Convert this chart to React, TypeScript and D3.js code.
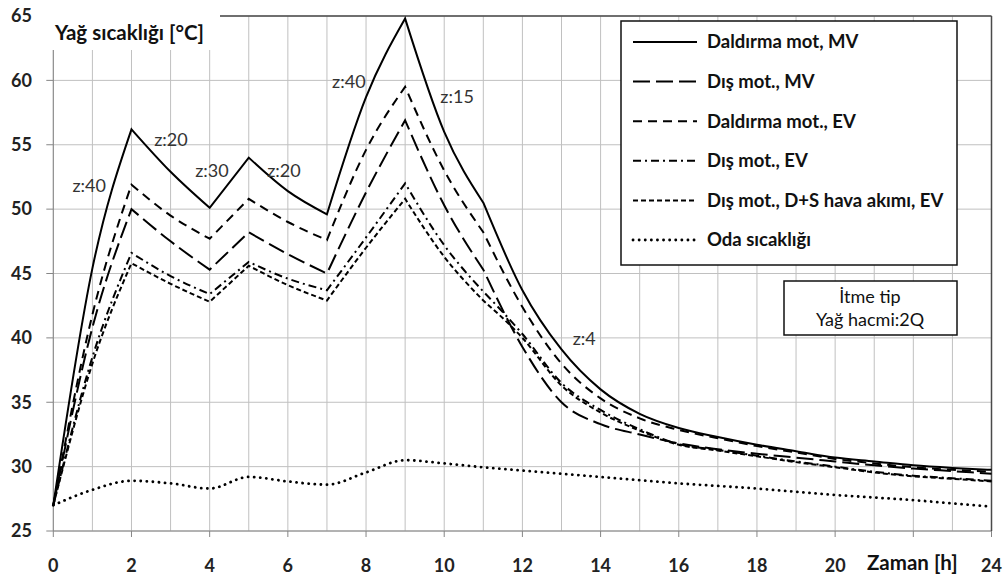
import React from 'react';
import * as d3 from 'd3';

// saat (x ekseni)
const HOURS = [0, 1, 2, 3, 4, 5, 6, 7, 8, 9, 10, 11, 12, 13, 14, 15, 16, 17, 18, 19, 20, 21, 22, 23, 24];

// yağ sıcaklığı serileri [°C]
const DALDIRMA_MV = [27.0, 45.4, 56.2, 52.9, 50.1, 54.0, 51.4, 49.6, 58.7, 64.8, 56.0, 50.5, 43.7, 39.1, 36.0, 34.1, 33.0, 32.3, 31.7, 31.2, 30.7, 30.4, 30.1, 29.9, 29.75];
const DIS_MV = [27.0, 40.8, 50.0, 47.5, 45.3, 48.2, 46.5, 45.0, 51.3, 56.9, 50.3, 45.3, 39.3, 35.0, 33.3, 32.5, 31.8, 31.35, 31.0, 30.7, 30.4, 30.1, 29.85, 29.65, 29.45];
const DALDIRMA_EV = [27.0, 41.8, 51.9, 49.5, 47.7, 50.8, 49.0, 47.6, 54.6, 59.5, 53.0, 48.2, 42.4, 38.0, 35.3, 33.75, 32.85, 32.2, 31.6, 31.1, 30.6, 30.25, 29.95, 29.75, 29.6];
const DIS_EV = [27.0, 38.5, 46.6, 44.8, 43.4, 45.9, 44.6, 43.7, 47.8, 52.0, 47.2, 43.6, 40.3, 36.5, 34.4, 32.9, 31.75, 31.3, 30.85, 30.4, 30.0, 29.6, 29.3, 29.1, 28.9];
const DIS_DS_EV = [27.0, 38.0, 45.8, 44.2, 42.8, 45.6, 44.1, 42.9, 47.0, 50.8, 46.3, 42.9, 40.0, 36.3, 34.2, 32.8, 31.7, 31.25, 30.8, 30.35, 29.95, 29.55, 29.25, 29.05, 28.85];
const ODA = [27.0, 28.2, 28.9, 28.7, 28.3, 29.2, 28.85, 28.6, 29.55, 30.5, 30.25, 29.95, 29.7, 29.45, 29.2, 28.95, 28.7, 28.5, 28.3, 28.05, 27.8, 27.6, 27.4, 27.15, 26.9];

// motor açma/kapama noktaları (saat) – eğriler bu noktalarda kırılır
const BREAKS = [0, 2, 4, 5, 7, 9, 11, 24];

const X_TICKS = [0, 2, 4, 6, 8, 10, 12, 14, 16, 18, 20, 22, 24];
// 22 etiketi eksen başlığının altında kalıyor
const X_LABELS = [0, 2, 4, 6, 8, 10, 12, 14, 16, 18, 20, 24];
const Y_TICKS = [25, 30, 35, 40, 45, 50, 55, 60, 65];

const LEGEND = ['Daldırma mot, MV', 'Dış mot., MV', 'Daldırma mot., EV', 'Dış mot., EV', 'Dış mot., D+S hava akımı, EV', 'Oda sıcaklığı'];

// z: saatlik çalışma sayısı notları (saat, °C)
const NOTE_TEXT = ['z:40', 'z:20', 'z:30', 'z:20', 'z:40', 'z:15', 'z:4'];
const NOTE_H = [0.92, 3.01, 4.06, 5.9, 7.56, 10.33, 13.58];
const NOTE_T = [51.8, 55.4, 53.0, 53.0, 59.9, 58.7, 39.9];

const W = 1005;
const H = 578;
const FONT = 'Lato, "Open Sans", "DejaVu Sans", sans-serif';

const x = d3.scaleLinear().domain([0, 24]).range([53.3, 991.5]);
const y = d3.scaleLinear().domain([25, 65]).range([531, 16]);

const series = [
  { name: LEGEND[0], values: DALDIRMA_MV, dash: null, width: 2 },
  { name: LEGEND[1], values: DIS_MV, dash: '17,6', width: 2 },
  { name: LEGEND[2], values: DALDIRMA_EV, dash: '9,6', width: 2 },
  { name: LEGEND[3], values: DIS_EV, dash: '8,4,2,4', width: 2 },
  { name: LEGEND[4], values: DIS_DS_EV, dash: '5,3', width: 2 },
  { name: LEGEND[5], values: ODA, dash: '0.1,6', width: 2.8 },
];

const segLine = d3.line<[number, number]>()
  .x(d => x(d[0]))
  .y(d => y(d[1]))
  .curve(d3.curveMonotoneX);

// her açma/kapama aralığı ayrı yumuşatılır, köşeler sivri kalsın
function brokenPath(values: number[]) {
  const pts: [number, number][] = HOURS.map((h, i) => [h, values[i]]);
  const parts: string[] = [];
  for (let i = 0; i < BREAKS.length - 1; i++) {
    const seg = pts.filter(p => p[0] >= BREAKS[i] && p[0] <= BREAKS[i + 1]);
    const d = segLine(seg) || '';
    parts.push(i === 0 ? d : d.replace(/^M/, 'L'));
  }
  return parts.join('');
}

function smoothPath(values: number[]) {
  return segLine(HOURS.map((h, i) => [h, values[i]] as [number, number])) || '';
}

const gridH = d3.range(0, 25);

const App: React.FC = () => {
  const x0 = x.range()[0];
  const x1 = x.range()[1];
  const yTop = y.range()[1];
  const yBot = y.range()[0];

  const legX = 621;
  const legY = 21;
  const legW = 336;
  const legH = 244;

  return (
    <svg width={W} height={H} viewBox={`0 0 ${W} ${H}`}
      style={{ position: 'absolute', left: 0, top: 0, background: '#fff' }}
      fontFamily={FONT}>
      <rect x={0} y={0} width={W} height={H} fill="#fff" />

      {/* ızgara */}
      <g stroke="#c0c0c0" strokeWidth={1}>
        {gridH.map(h => (
          <line key={'v' + h} x1={x(h)} x2={x(h)} y1={yTop} y2={yBot} />
        ))}
        {Y_TICKS.map(t => (
          <line key={'h' + t} x1={x0} x2={x1} y1={y(t)} y2={y(t)} />
        ))}
      </g>

      {/* eksenler */}
      <line x1={x0} x2={x0} y1={yTop} y2={yBot} stroke="#868686" strokeWidth={1} />
      <line x1={x0} x2={x1} y1={yBot} y2={yBot} stroke="#868686" strokeWidth={1} />
      <line x1={x0} x2={x1} y1={yTop} y2={yTop} stroke="#4a4a4a" strokeWidth={1.5} />
      <line x1={x1} x2={x1} y1={yTop} y2={yBot} stroke="#4a4a4a" strokeWidth={1.5} />
      {Y_TICKS.map(t => (
        <line key={'yt' + t} x1={x0 - 7} x2={x0} y1={y(t)} y2={y(t)} stroke="#868686" />
      ))}
      {X_TICKS.map(t => (
        <line key={'xt' + t} x1={x(t)} x2={x(t)} y1={yBot} y2={yBot + 6} stroke="#868686" />
      ))}

      {/* seriler */}
      {series.map((s, i) => (
        <path key={s.name}
          d={i === 5 ? smoothPath(s.values) : brokenPath(s.values)}
          fill="none" stroke="#000" strokeWidth={s.width}
          strokeDasharray={s.dash || undefined}
          strokeLinecap={i === 5 ? 'round' : 'butt'}
          strokeLinejoin="miter" />
      ))}

      {/* tick etiketleri */}
      {Y_TICKS.map(t => (
        <text key={'yl' + t} x={32} y={y(t)} dy="0.35em" textAnchor="end"
          fontSize={18} fontWeight="bold" fill="#222">{t}</text>
      ))}
      {X_LABELS.map(t => (
        <text key={'xl' + t} x={x(t)} y={566} dy="0.35em" textAnchor="middle"
          fontSize={18} fontWeight="bold" fill="#222">{t}</text>
      ))}

      {/* eksen başlıkları */}
      <rect x={44} y={8} width={176} height={42} fill="#fff" />
      <text x={55} y={33} dy="0.35em" fontSize={20.5} fontWeight="bold" fill="#111">Yağ sıcaklığı [°C]</text>
      <rect x={860} y={545} width={110} height={33} fill="#fff" />
      <text x={867} y={563} dy="0.35em" fontSize={20.5} fontWeight="bold" fill="#111">Zaman [h]</text>

      {/* notlar */}
      {NOTE_TEXT.map((t, i) => (
        <text key={'n' + i} x={x(NOTE_H[i])} y={y(NOTE_T[i])} dy="0.35em" textAnchor="middle"
          fontSize={18} fill="#333">{t}</text>
      ))}

      {/* lejant */}
      <rect x={legX} y={legY} width={legW} height={legH} fill="#fff" stroke="#111" strokeWidth={1.5} />
      {series.map((s, i) => {
        const ry = 42 + i * 39.6;
        return (
          <g key={'lg' + i}>
            <line x1={633} x2={697} y1={ry} y2={ry} stroke="#000" strokeWidth={s.width}
              strokeDasharray={s.dash || undefined} strokeLinecap={i === 5 ? 'round' : 'butt'} />
            <text x={707} y={ry} dy="0.35em" fontSize={18.5} fontWeight="bold" fill="#111">{s.name}</text>
          </g>
        );
      })}

      {/* deney bilgisi */}
      <rect x={784} y={281} width={173} height={54} fill="#fff" stroke="#111" strokeWidth={1.5} />
      <text x={870} y={297} dy="0.35em" textAnchor="middle" fontSize={18} fill="#111">İtme tip</text>
      <text x={870} y={320} dy="0.35em" textAnchor="middle" fontSize={18} fill="#111">Yağ hacmi:2Q</text>
    </svg>
  );
};

export default App;
